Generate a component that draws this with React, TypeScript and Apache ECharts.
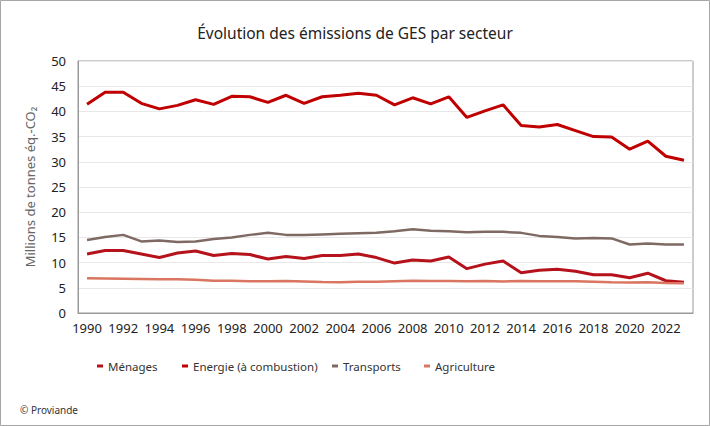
import React, { useEffect, useRef } from "react";
import * as echarts from "echarts";

const years: string[] = [];
for (let y = 1990; y <= 2023; y++) years.push(String(y));

const energie = [
  41.4, 43.8, 43.8, 41.6, 40.5, 41.2, 42.3, 41.4, 43.0, 42.9, 41.8, 43.2,
  41.6, 42.9, 43.2, 43.6, 43.2, 41.3, 42.7, 41.5, 42.9, 38.8, 40.1, 41.3,
  37.2, 36.9, 37.4, 36.2, 35.0, 34.9, 32.5, 34.1, 31.1, 30.3,
];
const menages = [
  11.7, 12.4, 12.4, 11.7, 11.0, 11.9, 12.3, 11.4, 11.8, 11.6, 10.7, 11.2,
  10.8, 11.4, 11.4, 11.7, 11.0, 9.9, 10.5, 10.3, 11.1, 8.8, 9.7, 10.3,
  8.0, 8.5, 8.7, 8.3, 7.6, 7.6, 7.0, 7.9, 6.4, 6.1,
];
const transports = [
  14.5, 15.1, 15.5, 14.2, 14.4, 14.1, 14.2, 14.7, 15.0, 15.5, 15.9, 15.5,
  15.5, 15.6, 15.7, 15.8, 15.9, 16.2, 16.6, 16.3, 16.2, 16.0, 16.1, 16.1,
  15.9, 15.3, 15.1, 14.8, 14.9, 14.8, 13.6, 13.8, 13.6, 13.6,
];
const agriculture = [
  6.9, 6.85, 6.8, 6.75, 6.7, 6.7, 6.6, 6.4, 6.4, 6.3, 6.3, 6.35,
  6.25, 6.15, 6.1, 6.2, 6.2, 6.3, 6.4, 6.35, 6.35, 6.3, 6.35, 6.25,
  6.35, 6.3, 6.3, 6.3, 6.2, 6.1, 6.05, 6.1, 5.95, 5.9,
];

const FONT = "'Noto Sans', sans-serif";

const seriesDefs = [
  { name: "Ménages", data: menages, color: "#B5121B", width: 3, legendLeft: 97 },
  { name: "Energie (à combustion)", data: energie, color: "#C00000", width: 3, legendLeft: 182 },
  { name: "Transports", data: transports, color: "#7F6A63", width: 2.5, legendLeft: 332 },
  { name: "Agriculture", data: agriculture, color: "#D97560", width: 2.5, legendLeft: 424 },
];

export default function App() {
  const ref = useRef<HTMLDivElement>(null);

  useEffect(() => {
    if (!ref.current) return;
    const chart = echarts.init(ref.current, undefined, { renderer: "svg" });
    chart.setOption({
      animation: false,
      backgroundColor: "#ffffff",
      textStyle: { fontFamily: FONT },
      title: {
        text: "Évolution des émissions de GES par secteur",
        left: "center",
        top: 20,
        textStyle: { fontFamily: FONT, fontSize: 15.5, fontWeight: "normal", color: "#222" },
      },
      legend: seriesDefs.map((s) => ({
        data: [s.name],
        left: s.legendLeft,
        top: 360,
        padding: 0,
        icon: "rect",
        itemWidth: 6,
        itemHeight: 3,
        textStyle: { fontFamily: FONT, fontSize: 11.5, color: "#333" },
      })),
      grid: { left: 78, right: 17, top: 61, bottom: 113, show: true, borderColor: "#999", borderWidth: 1 },
      xAxis: {
        type: "category",
        data: years,
        boundaryGap: true,
        axisLine: { lineStyle: { color: "#999" } },
        axisTick: { inside: true, length: 5, interval: 0, lineStyle: { color: "#888" } },
        axisLabel: { interval: 1, margin: 8, fontSize: 13, color: "#222", fontFamily: FONT },
      },
      yAxis: {
        type: "value",
        min: 0,
        max: 50,
        interval: 5,
        name: "Millions de tonnes éq.-CO₂",
        nameLocation: "middle",
        nameGap: 42,
        nameTextStyle: { fontSize: 13, color: "#666", fontFamily: FONT },
        axisLine: { show: true, lineStyle: { color: "#999" } },
        axisTick: { show: false },
        axisLabel: { margin: 12, fontSize: 13, color: "#222", fontFamily: FONT },
        splitLine: { lineStyle: { color: "#e8e8e8" } },
      },
      graphic: [
        {
          type: "rect",
          shape: { x: 0.5, y: 0.5, width: 709, height: 425 },
          style: { fill: "none", stroke: "#a6a6a6", lineWidth: 1 },
          silent: true,
        },
        {
          type: "text",
          left: 20,
          top: 405,
          style: { text: "© Proviande", fontSize: 10, fill: "#333", fontFamily: FONT },
        },
      ],
      series: seriesDefs.map((s) => ({
        name: s.name,
        type: "line",
        data: s.data,
        symbol: "none",
        color: s.color,
        lineStyle: { width: s.width, color: s.color },
      })),
    });
    return () => chart.dispose();
  }, []);

  return (
    <div
      ref={ref}
      style={{ position: "absolute", left: 0, top: 0, width: 710, height: 426 }}
    />
  );
}
